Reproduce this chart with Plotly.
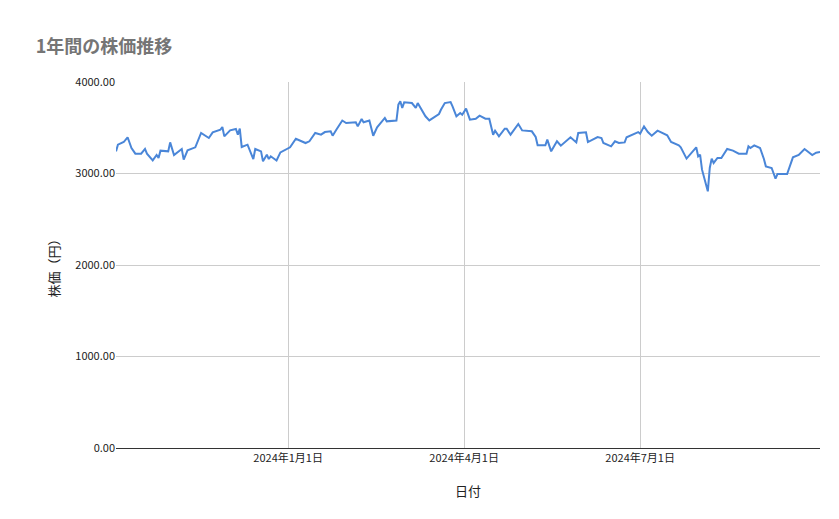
import plotly.graph_objects as go

dates = [
  "2023-10-04", "2023-10-05", "2023-10-08", "2023-10-10", "2023-10-12", "2023-10-14", "2023-10-17",
  "2023-10-19", "2023-10-20", "2023-10-23", "2023-10-25", "2023-10-26", "2023-10-27", "2023-10-31",
  "2023-11-01", "2023-11-03", "2023-11-07", "2023-11-08", "2023-11-10", "2023-11-14", "2023-11-17",
  "2023-11-21", "2023-11-23", "2023-11-27", "2023-11-28", "2023-11-29", "2023-12-02", "2023-12-05",
  "2023-12-06", "2023-12-07", "2023-12-08", "2023-12-11", "2023-12-14", "2023-12-15", "2023-12-18",
  "2023-12-19", "2023-12-21", "2023-12-22", "2023-12-23", "2023-12-26", "2023-12-28", "2024-01-02",
  "2024-01-05", "2024-01-10", "2024-01-12", "2024-01-15", "2024-01-18", "2024-01-20", "2024-01-23",
  "2024-01-24", "2024-01-26", "2024-01-29", "2024-01-31", "2024-02-05", "2024-02-06", "2024-02-08",
  "2024-02-09", "2024-02-12", "2024-02-14", "2024-02-16", "2024-02-20", "2024-02-21", "2024-02-26",
  "2024-02-27", "2024-02-28", "2024-02-29", "2024-03-01", "2024-03-05", "2024-03-07", "2024-03-08",
  "2024-03-12", "2024-03-14", "2024-03-19", "2024-03-20", "2024-03-22", "2024-03-25", "2024-03-26",
  "2024-03-28", "2024-03-30", "2024-03-31", "2024-04-02", "2024-04-04", "2024-04-07", "2024-04-09",
  "2024-04-12", "2024-04-14", "2024-04-16", "2024-04-17", "2024-04-19", "2024-04-22", "2024-04-23",
  "2024-04-25", "2024-04-29", "2024-05-01", "2024-05-06", "2024-05-08", "2024-05-09", "2024-05-13",
  "2024-05-14", "2024-05-16", "2024-05-19", "2024-05-21", "2024-05-26", "2024-05-29", "2024-05-30",
  "2024-06-03", "2024-06-04", "2024-06-09", "2024-06-11", "2024-06-12", "2024-06-16", "2024-06-18",
  "2024-06-20", "2024-06-23", "2024-06-24", "2024-06-27", "2024-06-30", "2024-07-01", "2024-07-03",
  "2024-07-05", "2024-07-07", "2024-07-10", "2024-07-15", "2024-07-17", "2024-07-21", "2024-07-22",
  "2024-07-25", "2024-07-30", "2024-07-31", "2024-08-01", "2024-08-02", "2024-08-05", "2024-08-06",
  "2024-08-07", "2024-08-08", "2024-08-10", "2024-08-12", "2024-08-15", "2024-08-18", "2024-08-21",
  "2024-08-25", "2024-08-26", "2024-08-27", "2024-08-29", "2024-09-01", "2024-09-03", "2024-09-04",
  "2024-09-07", "2024-09-09", "2024-09-10", "2024-09-15", "2024-09-18", "2024-09-21", "2024-09-24",
  "2024-09-28", "2024-09-30", "2024-10-02",
]

prices = [
  3242, 3315, 3344, 3396, 3279, 3217, 3217,
  3268, 3217, 3144, 3202, 3170, 3250, 3242,
  3340, 3202, 3268, 3151, 3253, 3286, 3443,
  3388, 3450, 3480, 3508, 3406, 3471, 3486,
  3424, 3490, 3290, 3315, 3158, 3268, 3242,
  3133, 3206, 3158, 3188, 3142, 3231, 3286,
  3380, 3333, 3352, 3443, 3424, 3453, 3461,
  3413, 3480, 3579, 3552, 3560, 3515, 3596,
  3560, 3579, 3413, 3505, 3607, 3570, 3579,
  3752, 3789, 3716, 3778, 3770, 3716, 3770,
  3625, 3581, 3650, 3697, 3770, 3781, 3734,
  3625, 3661, 3643, 3709, 3588, 3599, 3632,
  3599, 3599, 3424, 3468, 3406, 3490, 3490,
  3424, 3541, 3471, 3461, 3399, 3308, 3308,
  3370, 3242, 3352, 3304, 3396, 3340, 3443,
  3450, 3344, 3399, 3388, 3333, 3297, 3352,
  3333, 3340, 3396, 3424, 3453, 3435, 3515,
  3453, 3413, 3468, 3418, 3344, 3308, 3286,
  3163, 3286, 3188, 3206, 3042, 2805, 3060,
  3163, 3115, 3170, 3170, 3268, 3250, 3217,
  3217, 3297, 3279, 3308, 3279, 3158, 3078,
  3060, 2943, 2994, 2994, 3177, 3202, 3268,
  3202, 3228, 3235,
]

tick_dates = ["2024-01-01", "2024-04-01", "2024-07-01"]
tick_labels = ["2024年1月1日", "2024年4月1日", "2024年7月1日"]
y_ticks = [0, 1000, 2000, 3000, 4000]

fig = go.Figure()
fig.add_scatter(
  x=dates,
  y=prices,
  mode="lines",
  line=dict(color="#4a86d8", width=2),
  showlegend=False,
)

fig.update_layout(
  width=839,
  height=519,
  paper_bgcolor="white",
  plot_bgcolor="white",
  font=dict(family="Noto Sans CJK JP, Roboto, sans-serif", size=11, color="#222222"),
  title=dict(
    text="1年間の株価推移",
    x=0.033, xanchor="left",
    y=0.925, yanchor="middle",
    font=dict(size=18, color="#757575", weight="bold"),
  ),
  margin=dict(l=108, r=27, t=74, b=79),
)
fig.update_xaxes(
  automargin=False,
  range=["2023-10-04", "2024-10-02"],
  tickvals=tick_dates,
  ticktext=tick_labels,
  showgrid=True,
  gridcolor="#cccccc",
  showline=True,
  linecolor="#333333",
  ticks="",
  title=dict(text="日付", standoff=22),
)
fig.update_yaxes(
  automargin=False,
  range=[0, 4000],
  tickvals=y_ticks,
  tickformat=".2f",
  showgrid=True,
  gridcolor="#cccccc",
  zeroline=False,
  ticks="",
  title=dict(text="株価（円）", standoff=12),
)

fig.write_html("out.html")
